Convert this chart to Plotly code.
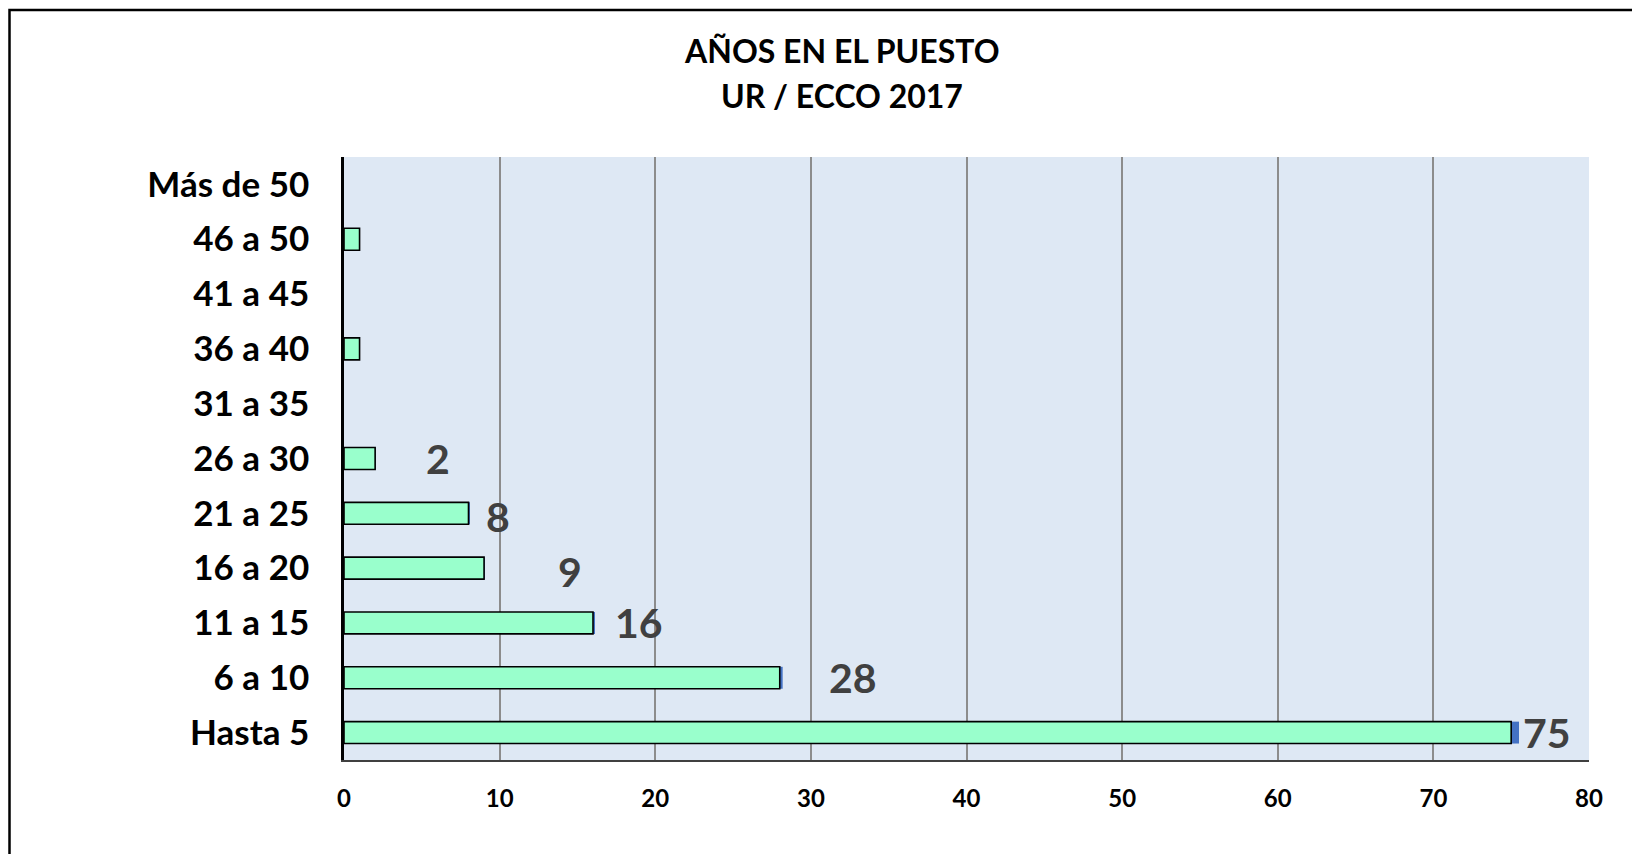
import plotly.graph_objects as go

# ── data ─────────────────────────────────────
categories = [
    "Hasta 5", "6 a 10", "11 a 15", "16 a 20", "21 a 25", "26 a 30",
    "31 a 35", "36 a 40", "41 a 45", "46 a 50", "Más de 50",
]
counts = [75, 28, 16, 9, 8, 2, 0, 1, 0, 1, 0]

# which bars carry a value label, and how far (px) the label sits past the bar end
labelled = ["Hasta 5", "6 a 10", "11 a 15", "16 a 20", "21 a 25", "26 a 30"]
label_xshift = [10, 47, 20, 72, 15, 49]
label_yshift = [0, 0, 0, -3, -3, 0]

x_ticks = [0, 10, 20, 30, 40, 50, 60, 70, 80]

# ── style ────────────────────────────────────
FONT = "Lato, 'Open Sans', sans-serif"
BAR_FILL = "#99FFCC"
CAP_BLUE = "#4472C4"
PLOT_BG = "#DEE8F4"
GRID = "#8C8C8C"
LABEL = "#404040"

# the page body adds an 8px margin, so the figure is 16px smaller than the window
PAGE = 8
W, H = 1640 - 2 * PAGE, 862 - 2 * PAGE
L, T = 344 - PAGE, 157 - PAGE
R, B = W - (1589 - PAGE), H - (760 - PAGE)
pw, ph = W - L - R, H - T - B


def px_x(px):
    # window pixel -> paper x
    return (px - PAGE - L) / pw


def px_y(py):
    # window pixel -> paper y
    return (H - B - (py - PAGE)) / ph


fig = go.Figure()

# thin blue sliver at the bar ends (shadow of the Excel bar)
fig.add_trace(go.Bar(
    y=categories, x=[v * 0.0067 for v in counts], base=counts,
    orientation="h", width=0.4,
    marker=dict(color=CAP_BLUE, line=dict(width=0)),
    hoverinfo="skip", showlegend=False,
))

fig.add_trace(go.Bar(
    y=categories, x=counts,
    orientation="h", width=0.4,
    marker=dict(color=BAR_FILL,
                line=dict(color="#000000", width=[1.6 if v else 0 for v in counts])),
    showlegend=False,
))

for cat, dx, dy in zip(labelled, label_xshift, label_yshift):
    v = counts[categories.index(cat)]
    fig.add_annotation(
        x=v, y=cat, xref="x", yref="y",
        text=f"<b>{v}</b>", showarrow=False,
        xanchor="left", yanchor="middle",
        xshift=dx, yshift=dy,
        font=dict(family=FONT, size=41, color=LABEL),
    )

# title (two lines)
for txt, py in [("AÑOS EN EL PUESTO", 50), ("UR / ECCO 2017", 96)]:
    fig.add_annotation(
        x=px_x(842), y=px_y(py), xref="paper", yref="paper",
        text=f"<b>{txt}</b>", showarrow=False,
        xanchor="center", yanchor="middle",
        font=dict(family=FONT, size=32, color="#000000"),
    )

# outer chart frame (right and bottom run off the canvas)
fig.add_shape(
    type="rect", xref="paper", yref="paper",
    x0=px_x(9.5), x1=px_x(1700), y0=px_y(900), y1=px_y(10),
    line=dict(color="#000000", width=2.5), fillcolor="rgba(0,0,0,0)",
    layer="above",
)

fig.update_layout(
    width=W, height=H,
    margin=dict(l=L, r=R, t=T, b=B, autoexpand=False),
    paper_bgcolor="#FFFFFF",
    plot_bgcolor=PLOT_BG,
    barmode="overlay",
    font=dict(family=FONT, color="#000000"),
    xaxis=dict(
        range=[0, 80], tickvals=x_ticks,
        showgrid=True, gridcolor=GRID, gridwidth=1.6,
        zeroline=False,
        showline=True, linecolor="#404040", linewidth=2,
        tickfont=dict(family=FONT, size=24, color="#000000", weight="bold"),
        ticks="", ticklabelstandoff=16,
        fixedrange=True,
    ),
    yaxis=dict(
        categoryorder="array", categoryarray=categories,
        range=[-0.5, len(categories) - 0.5],
        showgrid=False, zeroline=False,
        showline=True, linecolor="#000000", linewidth=2.5,
        tickfont=dict(family=FONT, size=35, color="#000000", weight="bold"),
        ticks="", ticklabelstandoff=25,
        fixedrange=True,
    ),
)

fig.write_html("out.html", config={"displayModeBar": False})
